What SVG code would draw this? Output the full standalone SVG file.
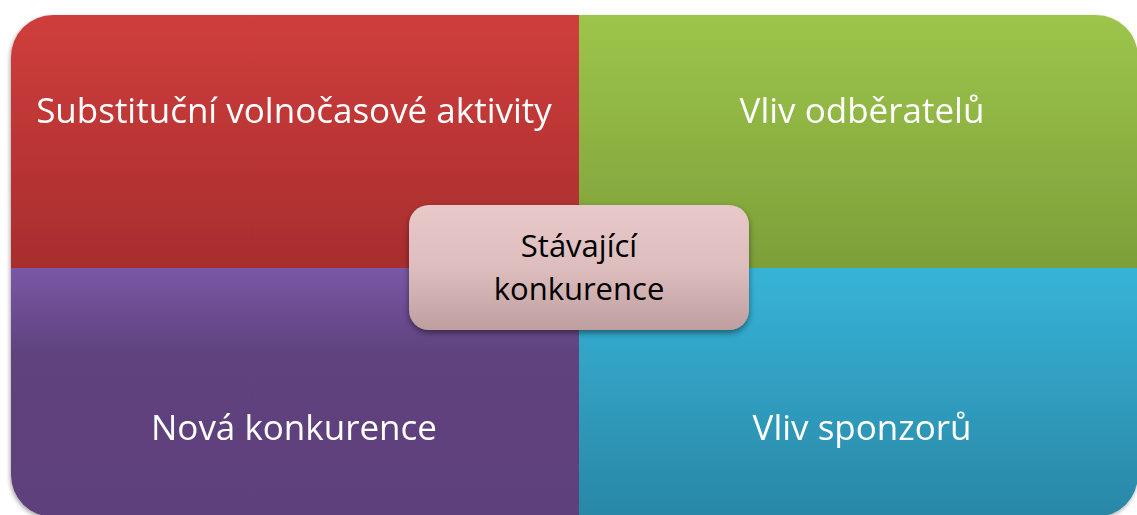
<svg xmlns="http://www.w3.org/2000/svg" width="1137" height="515" viewBox="0 0 1137 515">
  <defs>
    <linearGradient id="gRed" x1="0" y1="0" x2="0" y2="1">
      <stop offset="0" stop-color="#CF3E3C"/>
      <stop offset="1" stop-color="#A82D2E"/>
    </linearGradient>
    <linearGradient id="gGreen" x1="0" y1="0" x2="0" y2="1">
      <stop offset="0" stop-color="#9DC54B"/>
      <stop offset="1" stop-color="#7D9F39"/>
    </linearGradient>
    <linearGradient id="gPurple" x1="0" y1="0" x2="0" y2="1">
      <stop offset="0" stop-color="#7A57A6"/>
      <stop offset="0.35" stop-color="#5F427E"/>
      <stop offset="1" stop-color="#5D417B"/>
    </linearGradient>
    <linearGradient id="gBlue" x1="0" y1="0" x2="0" y2="1">
      <stop offset="0" stop-color="#36B4D8"/>
      <stop offset="1" stop-color="#2A87A6"/>
    </linearGradient>
    <linearGradient id="gCenter" x1="0" y1="0" x2="0" y2="1">
      <stop offset="0" stop-color="#E8C9CA"/>
      <stop offset="0.5" stop-color="#DDBDBE"/>
      <stop offset="1" stop-color="#BE9E9E"/>
    </linearGradient>
    <clipPath id="outer">
      <rect x="11" y="15" width="1127" height="502" rx="42" ry="42"/>
    </clipPath>
    <filter id="shadow" x="-10%" y="-10%" width="120%" height="130%">
      <feGaussianBlur in="SourceAlpha" stdDeviation="3"/>
      <feOffset dx="0" dy="3" result="b"/>
      <feComponentTransfer><feFuncA type="linear" slope="0.45"/></feComponentTransfer>
      <feMerge><feMergeNode/><feMergeNode in="SourceGraphic"/></feMerge>
    </filter>
    <filter id="edge" x="-5%" y="-5%" width="110%" height="110%">
      <feGaussianBlur in="SourceAlpha" stdDeviation="2"/>
      <feOffset dx="-1" dy="2"/>
      <feComponentTransfer><feFuncA type="linear" slope="0.35"/></feComponentTransfer>
      <feMerge><feMergeNode/><feMergeNode in="SourceGraphic"/></feMerge>
    </filter>
  </defs>
  <style>
    .lbl { font-family: "Open Sans", "Noto Sans", sans-serif; font-size: 35px; fill: #FFFFFF; text-anchor: middle; }
    .ctr { font-family: "Open Sans", "Noto Sans", sans-serif; font-size: 31px; fill: #000000; text-anchor: middle; }
  </style>

  <rect width="1137" height="515" fill="#FFFFFF"/>

  <!-- four quadrants sharing one rounded outline -->
  <g filter="url(#edge)">
    <g clip-path="url(#outer)">
      <g id="substitucni">
        <rect x="11" y="15" width="568" height="253" fill="url(#gRed)"/>
        <text class="lbl" x="294" y="123">Substituční volnočasové aktivity</text>
      </g>
      <g id="odberatele">
        <rect x="579" y="15" width="559" height="253" fill="url(#gGreen)"/>
        <text class="lbl" x="862" y="123">Vliv odběratelů</text>
      </g>
      <g id="nova-konkurence">
        <rect x="11" y="268" width="568" height="249" fill="url(#gPurple)"/>
        <text class="lbl" x="294" y="440">Nová konkurence</text>
      </g>
      <g id="sponzori">
        <rect x="579" y="268" width="559" height="249" fill="url(#gBlue)"/>
        <text class="lbl" x="862" y="440">Vliv sponzorů</text>
      </g>
    </g>
  </g>

  <g id="connectors"></g>

  <!-- central node -->
  <g id="stavajici-konkurence">
    <rect x="409" y="205" width="340" height="125" rx="20" ry="20" fill="url(#gCenter)" filter="url(#shadow)"/>
    <text class="ctr" x="579" y="257">Stávající</text>
    <text class="ctr" x="579" y="300">konkurence</text>
  </g>
</svg>
